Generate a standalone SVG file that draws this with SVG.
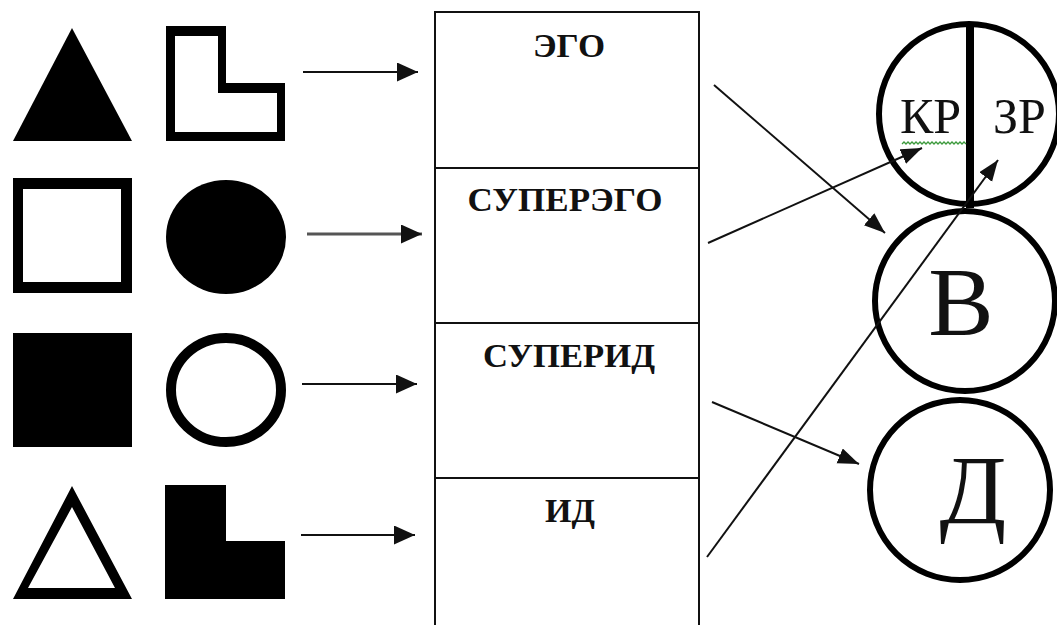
<svg xmlns="http://www.w3.org/2000/svg" width="1057" height="625" viewBox="0 0 1057 625">
<style>
.blk{fill:#000;}
.eo{fill:#000;fill-rule:evenodd;}
.ln{stroke:#111;stroke-width:2;fill:none;}
.box{stroke:#111;stroke-width:2;fill:#fff;}
.lbl{font-family:"Liberation Serif","Times New Roman",serif;font-weight:bold;font-size:33px;fill:#111;text-anchor:middle;}
.big{font-family:"Liberation Serif","Times New Roman",serif;fill:#111;}
.ring{fill:none;stroke:#000;stroke-width:6;}
</style>
<defs>
<marker id="ah" markerUnits="userSpaceOnUse" markerWidth="22" markerHeight="20" refX="21" refY="9.5" orient="auto">
<path d="M0,0 L21,9.5 L0,19 Z" fill="#111"/>
</marker>
<marker id="ah2" markerUnits="userSpaceOnUse" markerWidth="22" markerHeight="18" refX="21" refY="8" orient="auto">
<path d="M0,0 L21,8 L0,16 Z" fill="#111"/>
</marker>
</defs>
<rect width="1057" height="625" fill="#fff"/>

<g id="shapes">
<polygon id="tri-filled" class="blk" points="72,28 132,141 13,141"/>
<path id="l-outline" class="eo" d="M166,26 L226,26 L226,83 L285,83 L285,141 L166,141 Z M175,36 L175,132 L277,132 L277,93 L218,93 L218,36 Z"/>
<path id="sq-outline" class="eo" d="M13,178 L132,178 L132,293 L13,293 Z M23,189 L23,282 L121,282 L121,189 Z"/>
<ellipse id="circ-filled" class="blk" cx="226" cy="237" rx="60" ry="57"/>
<rect id="sq-filled" class="blk" x="13" y="333" width="119" height="114"/>
<ellipse id="circ-outline" cx="226" cy="390" rx="55" ry="52" fill="none" stroke="#000" stroke-width="10"/>
<path id="tri-outline" class="eo" d="M72,486 L132,599 L13,599 Z M72,507 L28,588 L115,588 Z"/>
<polygon id="l-filled" class="blk" points="165,485 226,485 226,541 285,541 285,599 165,599"/>
</g>

<g id="structure">
<rect id="box" class="box" x="435" y="12" width="264" height="630"/>
<line class="ln" x1="435" y1="168" x2="699" y2="168"/>
<line class="ln" x1="435" y1="323" x2="699" y2="323"/>
<line class="ln" x1="435" y1="478" x2="699" y2="478"/>
<g id="ego"><text class="lbl" x="569" y="57" textLength="72" lengthAdjust="spacingAndGlyphs">ЭГО</text></g>
<g id="superego"><text class="lbl" x="565" y="211" textLength="195" lengthAdjust="spacingAndGlyphs">СУПЕРЭГО</text></g>
<g id="superid"><text class="lbl" x="569" y="367" textLength="172" lengthAdjust="spacingAndGlyphs">СУПЕРИД</text></g>
<g id="id"><text class="lbl" x="570" y="522" textLength="50" lengthAdjust="spacingAndGlyphs">ИД</text></g>
</g>

<g id="kr-zr">
<circle class="ring" cx="969" cy="114" r="90"/>
<line x1="970" y1="22" x2="970" y2="208" stroke="#000" stroke-width="8"/>
<text class="big" x="900" y="133" font-size="50">КР</text>
<text class="big" x="993" y="133" font-size="50">ЗР</text>
<path d="M902,144 l2,-2 l2,2 l2,-2 l2,2 l2,-2 l2,2 l2,-2 l2,2 l2,-2 l2,2 l2,-2 l2,2 l2,-2 l2,2 l2,-2 l2,2 l2,-2 l2,2 l2,-2 l2,2 l2,-2 l2,2 l2,-2 l2,2 l2,-2 l2,2 l2,-2 l2,2 l2,-2 l2,2 l2,-2 l2,2" fill="none" stroke="#3c9a3c" stroke-width="1.3"/>
</g>
<g id="v">
<circle class="ring" cx="965" cy="301" r="90"/>
<text class="big" x="961" y="335" font-size="98" text-anchor="middle">В</text>
</g>
<g id="d">
<circle class="ring" cx="960" cy="490" r="90"/>
<text class="big" x="973" y="523" font-size="98" text-anchor="middle">Д</text>
</g>

<g id="connectors">
<line class="ln" x1="303" y1="72" x2="418" y2="72" marker-end="url(#ah)"/>
<line x1="307" y1="234" x2="422" y2="234" stroke="#555" stroke-width="3" marker-end="url(#ah)"/>
<line class="ln" x1="302" y1="384" x2="417" y2="384" marker-end="url(#ah)"/>
<line class="ln" x1="301" y1="535" x2="415" y2="535" marker-end="url(#ah)"/>
<line class="ln" x1="714" y1="85" x2="885" y2="233" marker-end="url(#ah2)"/>
<line class="ln" x1="708" y1="243" x2="922" y2="148" marker-end="url(#ah2)"/>
<line class="ln" x1="712" y1="402" x2="859" y2="464" marker-end="url(#ah2)"/>
<line class="ln" x1="707" y1="557" x2="998" y2="160" marker-end="url(#ah2)"/>
</g>
</svg>
